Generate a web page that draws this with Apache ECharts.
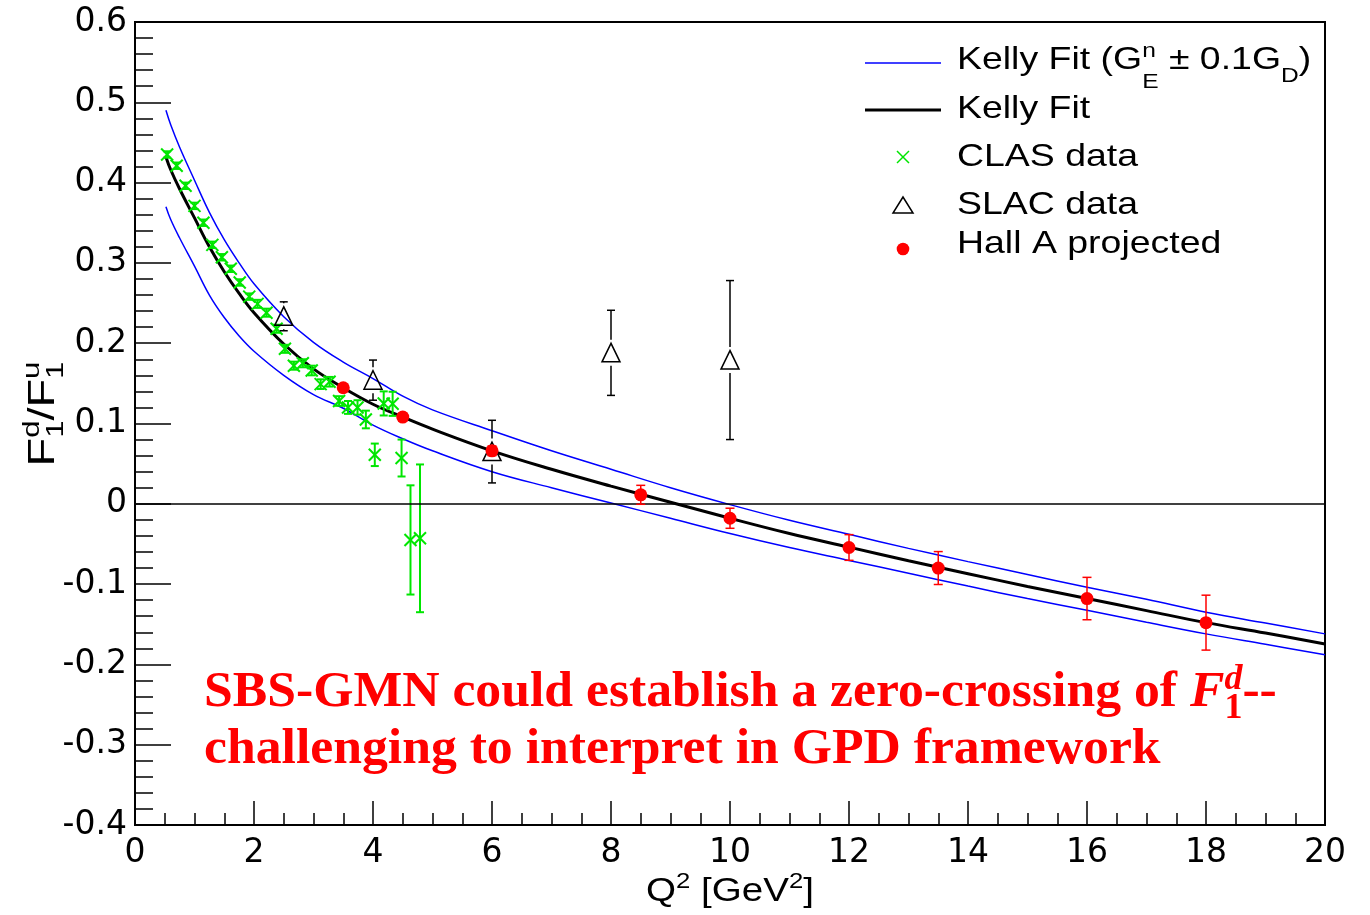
<!DOCTYPE html>
<html><head><meta charset="utf-8">
<script src="https://cdn.jsdelivr.net/npm/echarts@6/dist/echarts.min.js"></script>
<style>html,body{margin:0;padding:0;background:#fff}#c{width:1370px;height:915px}</style>
</head><body><div id="c"></div>
<script>
// ---- data ----
const curveQ2   = [0.52,0.6,0.75,1.0,1.25,1.5,1.75,2.0,2.5,3.0,3.5,4.0,4.5,5.0,6.0,7.0,8.0,9.0,10,11,12,13,14,15,16,17,18,19,20];
const kellyFit  = [0.432,0.416,0.392,0.356,0.320,0.289,0.262,0.238,0.199,0.168,0.1445,0.124,0.108,0.093,0.066,0.043,0.022,0.002,-0.018,-0.037,-0.054,-0.071,-0.087,-0.103,-0.118,-0.133,-0.148,-0.161,-0.1745];
const kellyUp   = [0.490,0.472,0.444,0.403,0.363,0.329,0.300,0.274,0.233,0.201,0.1765,0.156,0.134,0.117,0.091,0.066,0.043,0.020,-0.001,-0.0205,-0.038,-0.0555,-0.072,-0.088,-0.104,-0.119,-0.135,-0.1485,-0.162];
const kellyDown = [0.370,0.354,0.331,0.296,0.260,0.232,0.209,0.190,0.160,0.136,0.119,0.098,0.081,0.066,0.040,0.020,0.001,-0.018,-0.037,-0.0545,-0.0705,-0.0865,-0.1025,-0.118,-0.1325,-0.1475,-0.162,-0.175,-0.188];

const clasQ2  = [0.54,0.70,0.85,1.00,1.15,1.30,1.46,1.61,1.76,1.92,2.06,2.21,2.38,2.52,2.67,2.82,2.97,3.12,3.27,3.43,3.58,3.74,3.88,4.03,4.18,4.33,4.48,4.63,4.79];
const clasVal = [0.435,0.421,0.396,0.371,0.350,0.3225,0.307,0.2927,0.2756,0.258,0.249,0.238,0.218,0.193,0.172,0.175,0.166,0.149,0.152,0.128,0.120,0.120,0.105,0.061,0.125,0.1245,0.057,-0.045,-0.043];
const clasErr = [0.004,0.004,0.004,0.004,0.004,0.004,0.004,0.004,0.004,0.004,0.005,0.005,0.005,0.005,0.005,0.005,0.006,0.006,0.006,0.006,0.008,0.009,0.011,0.014,0.015,0.015,0.023,0.068,0.092];

const slacQ2  = [2.5,4,6,8,10];
const slacVal = [0.2335,0.154,0.065,0.188,0.179];
const slacErr = [0.018,0.025,0.039,0.053,0.099];

const hallQ2  = [3.5,4.5,6,8.5,10,12,13.5,16,18];
const hallVal = [0.1445,0.108,0.066,0.0112,-0.018,-0.0544,-0.080,-0.118,-0.148];
const hallErr = [0.004,0.005,0.006,0.0118,0.0125,0.016,0.0205,0.0264,0.0342];

const xMin = 0, xMax = 20, xStep = 2;
const yMin = -0.4, yMax = 0.6, yStep = 0.1;

// ---- helpers ----
const SANS = '"Liberation Sans", Arial, Helvetica, sans-serif';
const SERIF = '"Liberation Serif", "Times New Roman", serif';
const mctx = document.createElement('canvas').getContext('2d');
function tw(t, f){ mctx.font = f; return mctx.measureText(t).width; }
function fontStr(p){ return (p.fs||'normal')+' '+(p.fw||'normal')+' '+p.s+'px '+(p.fam||SANS); }
function mathRow(pieces, o){
  let cx = 0, stackW = 0; const kids = [];
  pieces.forEach(p => {
    const f = fontStr(p); const w = tw(p.t, f);
    kids.push({type:'text', x:cx, y:p.dy||0, silent:true,
      style:{text:p.t, font:f, fill:o.color||'#000', align:'left', verticalAlign:'middle', textAlign:'left', textVerticalAlign:'middle'}});
    if (p.stack) { stackW = Math.max(stackW, w); } else { cx += Math.max(w, stackW); stackW = 0; }
  });
  cx += stackW;
  if (o.align === 'center') kids.forEach(k => { k.x -= cx/2; });
  return {type:'group', x:o.x, y:o.y, rotation:o.rotation||0, scaleX:o.sx||1, scaleY:o.sy||1, silent:true, children:kids};
}

const GREEN = '#00e600', BLUE = '#0000ff', RED = '#ff0000';

function clasItem(params, api){
  const x = api.value(0), y = api.value(1), e = api.value(2);
  const p = api.coord([x,y]); const t = api.coord([x,y+e])[1]; const b = api.coord([x,y-e])[1];
  const st = {stroke:GREEN, lineWidth:2, fill:null};
  const m = 6, c = 4;
  return {type:'group', children:[
    {type:'line', shape:{x1:p[0],y1:t,x2:p[0],y2:b}, style:st},
    {type:'line', shape:{x1:p[0]-c,y1:t,x2:p[0]+c,y2:t}, style:st},
    {type:'line', shape:{x1:p[0]-c,y1:b,x2:p[0]+c,y2:b}, style:st},
    {type:'line', shape:{x1:p[0]-m,y1:p[1]-m,x2:p[0]+m,y2:p[1]+m}, style:st},
    {type:'line', shape:{x1:p[0]-m,y1:p[1]+m,x2:p[0]+m,y2:p[1]-m}, style:st}
  ]};
}
function slacItem(params, api){
  const x = api.value(0), y = api.value(1), e = api.value(2);
  const p = api.coord([x,y]); const t = api.coord([x,y+e])[1]; const b = api.coord([x,y-e])[1];
  const st = {stroke:'#000', lineWidth:1.5, fill:null};
  const g = 13, c = 4; const kids = [];
  if (t < p[1]-g) kids.push({type:'line', shape:{x1:p[0],y1:t,x2:p[0],y2:p[1]-g}, style:st});
  if (b > p[1]+g) kids.push({type:'line', shape:{x1:p[0],y1:p[1]+g,x2:p[0],y2:b}, style:st});
  kids.push({type:'line', shape:{x1:p[0]-c,y1:t,x2:p[0]+c,y2:t}, style:st});
  kids.push({type:'line', shape:{x1:p[0]-c,y1:b,x2:p[0]+c,y2:b}, style:st});
  kids.push({type:'polygon', shape:{points:[[p[0],p[1]-9.5],[p[0]-9,p[1]+9],[p[0]+9,p[1]+9]]}, style:{stroke:'#000', lineWidth:1.5, fill:'none'}});
  return {type:'group', children:kids};
}
function hallItem(params, api){
  const x = api.value(0), y = api.value(1), e = api.value(2);
  const p = api.coord([x,y]); const t = api.coord([x,y+e])[1]; const b = api.coord([x,y-e])[1];
  const st = {stroke:RED, lineWidth:1.5, fill:null}; const c = 4.5;
  return {type:'group', children:[
    {type:'line', shape:{x1:p[0],y1:t,x2:p[0],y2:b}, style:st},
    {type:'line', shape:{x1:p[0]-c,y1:t,x2:p[0]+c,y2:t}, style:st},
    {type:'line', shape:{x1:p[0]-c,y1:b,x2:p[0]+c,y2:b}, style:st},
    {type:'circle', shape:{cx:p[0], cy:p[1], r:6.5}, style:{fill:RED, stroke:null}}
  ]};
}

const zip2 = (a,b) => a.map((v,i) => [v, b[i]]);
const zip3 = (a,b,c) => a.map((v,i) => [v, b[i], c[i]]);

// ---- legend + texts (graphic) ----
const LX = 957, SX = 1.17;
const graphics = [
  {type:'line', shape:{x1:865,y1:63,x2:941,y2:63}, style:{stroke:BLUE, lineWidth:1.5}},
  {type:'line', shape:{x1:865,y1:110,x2:941,y2:110}, style:{stroke:'#000', lineWidth:3}},
  {type:'line', shape:{x1:897,y1:151,x2:909,y2:163}, style:{stroke:GREEN, lineWidth:1.5}},
  {type:'line', shape:{x1:897,y1:163,x2:909,y2:151}, style:{stroke:GREEN, lineWidth:1.5}},
  {type:'polygon', shape:{points:[[903,197],[893,213],[913,213]]}, style:{stroke:'#000', lineWidth:1.5, fill:'none'}},
  {type:'circle', shape:{cx:903, cy:249, r:6.3}, style:{fill:RED}},
  mathRow([{t:'Kelly Fit (G', s:32}, {t:'n', s:21, dy:-9, stack:true}, {t:'E', s:21, dy:22},
           {t:' \u00b1 0.1G', s:32}, {t:'D', s:21, dy:16}, {t:')', s:32}], {x:LX, y:60.5, sx:SX}),
  mathRow([{t:'Kelly Fit', s:32}], {x:LX, y:109, sx:SX}),
  mathRow([{t:'CLAS data', s:32}], {x:LX, y:157, sx:SX}),
  mathRow([{t:'SLAC data', s:32}], {x:LX, y:205, sx:SX}),
  mathRow([{t:'Hall A projected', s:32}], {x:LX, y:244, sx:SX}),
  // axis titles
  mathRow([{t:'Q', s:33}, {t:'2', s:22, dy:-10}, {t:' [GeV', s:33}, {t:'2', s:22, dy:-10}, {t:']', s:33}],
          {x:730, y:892, align:'center', sx:SX}),
  mathRow([{t:'F', s:36}, {t:'d', s:24, dy:-12, stack:true}, {t:'1', s:24, dy:12}, {t:'/F', s:36},
           {t:'u', s:24, dy:-12, stack:true}, {t:'1', s:24, dy:12}],
          {x:44, y:414, align:'center', rotation:Math.PI/2, sx:1.3}),
  // annotation
  mathRow([{t:'SBS-GMN could establish a zero-crossing of ', s:51.7, fam:SERIF, fw:'bold'},
           {t:'F', s:51.7, fam:SERIF, fw:'bold', fs:'italic'},
           {t:'d', s:36, fam:SERIF, fw:'bold', fs:'italic', dy:-13.5, stack:true},
           {t:'1', s:36, fam:SERIF, fw:'bold', dy:15.5},
           {t:'--', s:51.7, fam:SERIF, fw:'bold'}], {x:204, y:693, color:RED}),
  mathRow([{t:'challenging to interpret in GPD framework', s:51.7, fam:SERIF, fw:'bold'}], {x:204, y:750, color:RED})
];

const chart = echarts.init(document.getElementById('c'), null, {renderer:'canvas'});
chart.setOption({
  animation:false,
  backgroundColor:'#fff',
  grid:{left:135, right:45, top:22, bottom:90, show:true, borderColor:'#000', borderWidth:2, backgroundColor:'transparent'},
  xAxis:{type:'value', min:xMin, max:xMax, interval:xStep,
    axisLine:{show:true, onZero:false, lineStyle:{color:'#000', width:2}},
    axisTick:{show:true, inside:true, length:24, lineStyle:{color:'#000', width:1.5}},
    minorTick:{show:true, splitNumber:4, length:12, lineStyle:{color:'#000', width:1.5}},
    splitLine:{show:false}, minorSplitLine:{show:false},
    axisLabel:{color:'#000', fontSize:33, fontFamily:'"DejaVu Sans", sans-serif', margin:12, showMinLabel:true, showMaxLabel:true,
      formatter: v => String(Math.round(v))}
  },
  yAxis:{type:'value', min:yMin, max:yMax, interval:yStep,
    axisLine:{show:true, onZero:false, lineStyle:{color:'#000', width:2}},
    axisTick:{show:true, inside:true, length:36, lineStyle:{color:'#000', width:1.5}},
    minorTick:{show:true, splitNumber:5, length:18, lineStyle:{color:'#000', width:1.5}},
    splitLine:{show:false}, minorSplitLine:{show:false},
    axisLabel:{color:'#000', fontSize:33, fontFamily:'"DejaVu Sans", sans-serif', margin:8, showMinLabel:true, showMaxLabel:true,
      formatter: v => Math.abs(v) < 1e-9 ? '0' : v.toFixed(1)}
  },
  series:[
    {name:'Kelly Fit upper', type:'line', data:zip2(curveQ2, kellyUp), smooth:0.4, symbol:'none', lineStyle:{color:BLUE, width:1.5}, z:2},
    {name:'Kelly Fit lower', type:'line', data:zip2(curveQ2, kellyDown), smooth:0.4, symbol:'none', lineStyle:{color:BLUE, width:1.5}, z:2},
    {name:'Kelly Fit', type:'line', data:zip2(curveQ2, kellyFit), smooth:0.4, symbol:'none', lineStyle:{color:'#000', width:3}, z:3,
      markLine:{silent:true, symbol:['none','none'], label:{show:false}, lineStyle:{color:'#000', width:1.5, type:'solid'}, data:[{yAxis:0}]}},
    {name:'CLAS data', type:'custom', renderItem:clasItem, data:zip3(clasQ2, clasVal, clasErr), encode:{x:0, y:1}, z:4},
    {name:'SLAC data', type:'custom', renderItem:slacItem, data:zip3(slacQ2, slacVal, slacErr), encode:{x:0, y:1}, z:5},
    {name:'Hall A projected', type:'custom', renderItem:hallItem, data:zip3(hallQ2, hallVal, hallErr), encode:{x:0, y:1}, z:6}
  ],
  graphic:{elements:graphics}
});
</script></body></html>
